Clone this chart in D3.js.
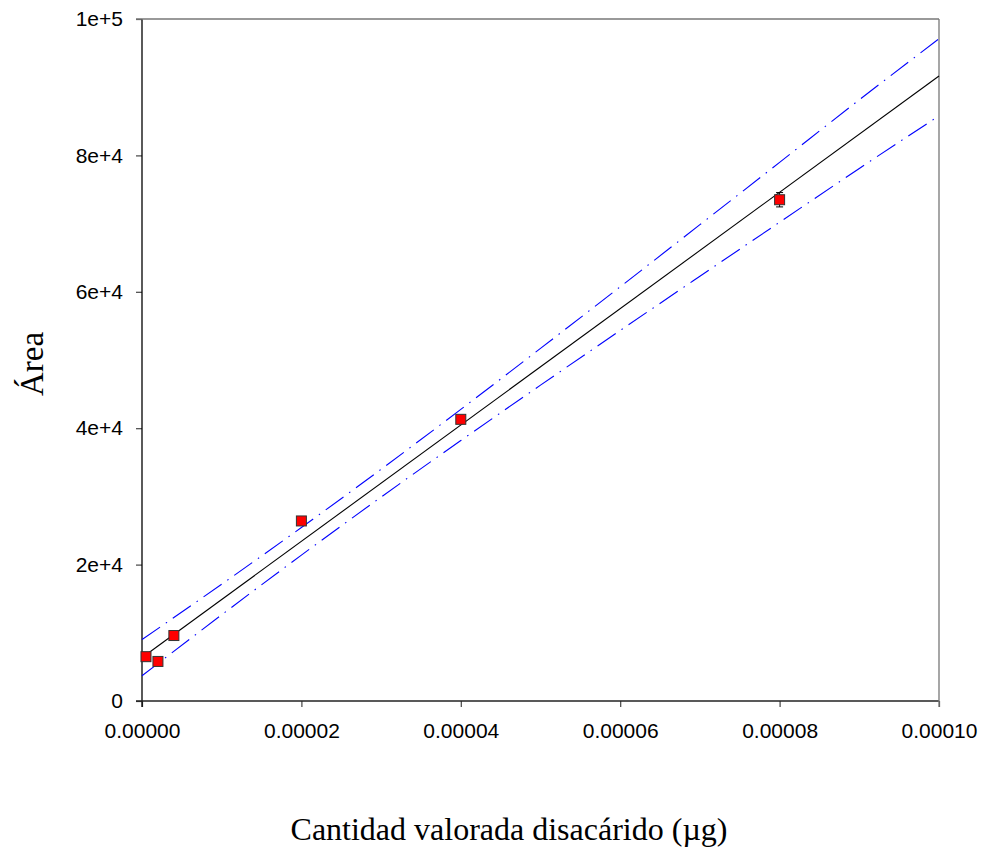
<!DOCTYPE html>
<html>
<head>
<meta charset="utf-8">
<script src="https://cdn.jsdelivr.net/npm/d3@7/dist/d3.min.js"></script>
<style>
  html, body { margin: 0; padding: 0; background: #fff; }
  svg { display: block; }
</style>
</head>
<body>
<svg id="chart" width="984" height="852"></svg>
<script>
// ---- data ----
const pointX = [0.0000005, 0.000002, 0.000004, 0.00002, 0.00004, 0.00008];
const pointY = [6500, 5800, 9600, 26400, 41300, 73500];
const pointErr = [200, 250, 200, 300, 400, 1050];

const fitX = [0.0000005, 0.0001];
const fitY = [6780, 91650];

const bandX = [0, 0.00001, 0.00002, 0.00003, 0.00004, 0.00005, 0.00006, 0.00007, 0.00008, 0.00009, 0.0001];
const bandUpper = [9000, 17130, 25440, 33980, 42760, 51700, 60740, 69840, 78980, 88150, 97100];
const bandLower = [3700, 12640, 21390, 29900, 38190, 46310, 54330, 62280, 70200, 78090, 85800];

const xTicks = [0, 0.00002, 0.00004, 0.00006, 0.00008, 0.0001];
const xTickLabels = ["0.00000", "0.00002", "0.00004", "0.00006", "0.00008", "0.00010"];
const yTicks = [0, 20000, 40000, 60000, 80000, 100000];
const yTickLabels = ["0", "2e+4", "4e+4", "6e+4", "8e+4", "1e+5"];

const xTitle = "Cantidad valorada disacárido (µg)";
const yTitle = "Área";

// ---- layout ----
const L = 142, R = 939, T = 19, B = 701;
const svg = d3.select("#chart");

const x = d3.scaleLinear().domain([0, 0.0001]).range([L, R]);
const y = d3.scaleLinear().domain([0, 100000]).range([B, T]);

const tickFont = "'Liberation Sans', Arial, sans-serif";
const titleFont = "'Liberation Serif', 'Times New Roman', serif";

// axes
const xAxis = d3.axisBottom(x).tickValues(xTicks)
  .tickFormat((d, i) => xTickLabels[i]).tickSize(6).tickPadding(16);
const yAxis = d3.axisLeft(y).tickValues(yTicks)
  .tickFormat((d, i) => yTickLabels[i]).tickSize(6).tickPadding(13);

const gx = svg.append("g").attr("transform", `translate(0,${B})`).call(xAxis);
const gy = svg.append("g").attr("transform", `translate(${L},0)`).call(yAxis);
[gx, gy].forEach(g => {
  g.select(".domain").remove();
  g.selectAll(".tick line").attr("stroke", "#444").attr("stroke-width", 1.2);
  g.selectAll(".tick text").attr("fill", "#000")
    .style("font-family", tickFont).style("font-size", "21px");
});

// frame: left/bottom dark, top/right gray
svg.append("line").attr("x1", L).attr("x2", L).attr("y1", T).attr("y2", B + 6)
  .attr("stroke", "#000").attr("stroke-width", 1.3);
svg.append("line").attr("x1", L - 6).attr("x2", R).attr("y1", B).attr("y2", B)
  .attr("stroke", "#222").attr("stroke-width", 1.3);
svg.append("line").attr("x1", L - 6).attr("x2", R).attr("y1", T).attr("y2", T)
  .attr("stroke", "#777").attr("stroke-width", 1.3);
svg.append("line").attr("x1", R).attr("x2", R).attr("y1", T).attr("y2", B + 6)
  .attr("stroke", "#777").attr("stroke-width", 1.3);

// confidence bands
const line = d3.line().x(d => x(d[0])).y(d => y(d[1]));
[bandUpper, bandLower].forEach(arr => {
  svg.append("path")
    .datum(bandX.map((v, i) => [v, arr[i]]))
    .attr("d", line.curve(d3.curveMonotoneX))
    .attr("fill", "none").attr("stroke", "#0000ff").attr("stroke-width", 1.1)
    .attr("stroke-dasharray", "22,7,1.5,7");
});

// regression line
svg.append("path")
  .datum(fitX.map((v, i) => [v, fitY[i]]))
  .attr("d", d3.line().x(d => x(d[0])).y(d => y(d[1])))
  .attr("fill", "none").attr("stroke", "#000").attr("stroke-width", 1.1);

// error bars
const eb = svg.append("g").attr("stroke", "#000").attr("stroke-width", 1);
pointX.forEach((px, i) => {
  const cx = x(px), y1 = y(pointY[i] + pointErr[i]), y2 = y(pointY[i] - pointErr[i]);
  eb.append("line").attr("x1", cx).attr("x2", cx).attr("y1", y1).attr("y2", y2);
  eb.append("line").attr("x1", cx - 3.5).attr("x2", cx + 3.5).attr("y1", y1).attr("y2", y1);
  eb.append("line").attr("x1", cx - 3.5).attr("x2", cx + 3.5).attr("y1", y2).attr("y2", y2);
});

// markers
const S = 10;
svg.append("g").selectAll("rect")
  .data(pointX.map((v, i) => [v, pointY[i]]))
  .join("rect")
  .attr("x", d => x(d[0]) - S / 2).attr("y", d => y(d[1]) - S / 2)
  .attr("width", S).attr("height", S)
  .attr("fill", "#ff0000").attr("stroke", "#333").attr("stroke-width", 1);

// titles
svg.append("text").attr("x", 509).attr("y", 840).attr("text-anchor", "middle")
  .style("font-family", titleFont).style("font-size", "32px").text(xTitle);
svg.append("text").attr("transform", "translate(43,364) rotate(-90)")
  .attr("text-anchor", "middle")
  .style("font-family", titleFont).style("font-size", "33px").text(yTitle);
</script>
</body>
</html>
